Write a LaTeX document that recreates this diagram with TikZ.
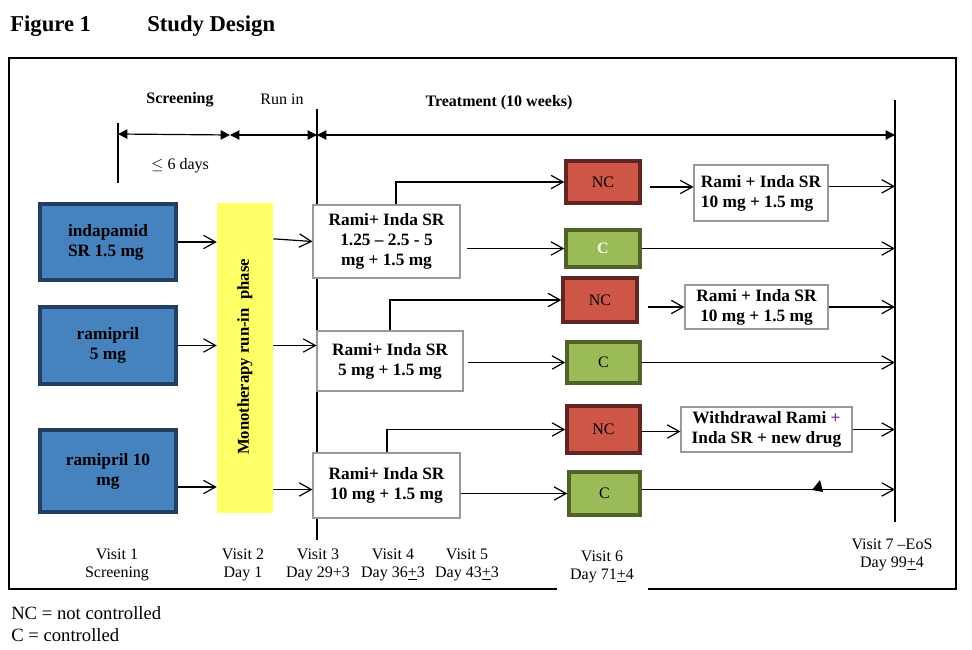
\documentclass[tikz,border=0pt]{standalone}
\usepackage{fontspec}
\setmainfont{Liberation Serif}
\usetikzlibrary{arrows.meta}
\definecolor{bluefill}{RGB}{70,130,190}
\definecolor{blueline}{RGB}{36,62,96}
\definecolor{redfill}{RGB}{205,86,70}
\definecolor{redline}{RGB}{99,37,35}
\definecolor{greenfill}{RGB}{155,187,89}
\definecolor{greenline}{RGB}{79,98,40}
\definecolor{yellowfill}{RGB}{255,255,102}
\definecolor{plusviolet}{RGB}{112,48,160}
\begin{document}
\begin{tikzpicture}[x=0.75pt,y=-0.75pt,
  sz/.style 2 args={minimum width=#1*0.75pt,minimum height=#2*0.75pt},
  boxfont/.style={font=\fontsize{13}{15}\selectfont\bfseries},
  lblfont/.style={font=\fontsize{12}{13.5}\selectfont},
  bluebox/.style={draw=blueline,fill=bluefill,line width=3pt,inner sep=0pt,boxfont,align=center},
  ncbox/.style={draw=redline,fill=redfill,line width=2.6pt,inner sep=0pt,lblfont,align=center},
  cbox/.style={draw=greenline,fill=greenfill,line width=2.6pt,inner sep=0pt,lblfont,align=center},
  trbox/.style={draw=gray!80,fill=white,line width=0.8pt,inner sep=0pt,boxfont,align=center},
  oarr/.style={-{Straight Barb[length=9pt,width=10pt,line width=0.9pt]},line width=0.9pt},
  tarr/.style={{Triangle[length=7pt,width=7pt]}-{Triangle[length=7pt,width=7pt]},line width=0.9pt},
  vline/.style={line width=0.9pt}]
\useasboundingbox (0,0) rectangle (972,650);

% titles
\node[anchor=base west,inner sep=0pt,font=\fontsize{17}{19}\selectfont\bfseries] (fig) at (10,31) {Figure 1};
\node[anchor=base west,inner sep=0pt,font=\fontsize{17}{19}\selectfont\bfseries] (title) at (147,31) {Study Design};

% frame
\draw[line width=1.1pt] (9,58) rectangle (956,589);

% phase labels
\node[font=\fontsize{12}{13.5}\selectfont\bfseries] (scr) at (180,100) {Screening};
\node[lblfont] (runin) at (282,99) {Run in};
\node[font=\fontsize{12}{13.5}\selectfont\bfseries] (treat) at (499,103) {Treatment (10 weeks)};
\node[lblfont] (days) at (180,166) {$\leq$ 6 days};

% timeline
\coordinate (s0) at (118,134);
\coordinate (s1) at (230,135);
\coordinate (s2) at (317,135);
\coordinate (s3) at (895,135);
\coordinate (t1a) at (118,123);
\coordinate (t1b) at (118,183);
\coordinate (v3a) at (317,109);
\coordinate (v3b) at (317,540);
\coordinate (v7a) at (895,100);
\coordinate (v7b) at (895,522);
\draw[vline] (t1a) -- (t1b);
\draw[vline] (v3a) -- (v3b);
\draw[vline] (v7a) -- (v7b);
\draw[tarr] (s0) -- (s1);
\draw[tarr] (s1) -- (s2);
\draw[tarr] (s2) -- (s3);

% blue boxes
\node[bluebox,sz={136}{76},align=left] (B1) at (108,242) {indapamid\\SR 1.5 mg};
\node[bluebox,sz={136}{77}] (B2) at (108,345.5) {ramipril\\5 mg};
\node[bluebox,sz={136}{82}] (B3) at (108,471) {ramipril 10\\mg};

% yellow run-in
\node[fill=yellowfill,inner sep=0pt,sz={56}{310}] (Y) at (245,358) {};
\node[rotate=90,font=\fontsize{12.5}{14}\selectfont\bfseries] (Ytext) at (245,357) {Monotherapy run-in\ \ phase};

% treatment boxes
\node[trbox,sz={147}{73}] (T1) at (386.5,241.5) {Rami+ Inda SR\\1.25 -- 2.5 - 5\\mg + 1.5 mg};
\node[trbox,sz={146}{60}] (T2) at (390,361) {Rami+ Inda SR\\5 mg + 1.5 mg};
\node[trbox,sz={147}{65}] (T3) at (386.5,485.5) {Rami+ Inda SR\\10 mg + 1.5 mg};

% NC / C boxes
\node[ncbox,sz={74}{42}] (NC1) at (603,182) {NC};
\node[cbox,sz={74}{37},text=white,font=\fontsize{12}{13.5}\selectfont\bfseries] (C1) at (603,248.5) {C};
\node[ncbox,sz={74}{44}] (NC2) at (600,300) {NC};
\node[cbox,sz={73}{41}] (C2) at (603.5,362.5) {C};
\node[ncbox,sz={73}{47}] (NC3) at (603.5,429.5) {NC};
\node[cbox,sz={71}{43}] (C3) at (604.5,493.5) {C};

% right boxes
\node[trbox,sz={134}{56},align=left] (R1) at (761,193) {Rami + Inda SR\\10 mg + 1.5 mg};
\node[trbox,sz={143}{44}] (R2) at (756.5,307) {Rami + Inda SR\\10 mg + 1.5 mg};
\node[trbox,sz={171}{45}] (W) at (766.5,429.5) {Withdrawal Rami {\color{plusviolet}+}\\Inda SR + new drug};

% arrows blue -> yellow
\draw[oarr] (B1.east) -- (B1.east -| Y.west);
\draw[oarr] (B2.east) -- (B2.east -| Y.west);
\draw[oarr] ([yshift=-12pt]B3.east) -- ([yshift=-12pt]B3.east -| Y.west);

% yellow -> treatment
\draw[oarr] ([yshift=2pt]Y.east |- T1.west) -- (T1.west);
\draw[oarr] (Y.east |- B2.east) -- (T2.west |- B2.east);
\draw[oarr] ([yshift=-3pt]Y.east |- T3.west) -- ([yshift=-3pt]T3.west);

% treatment -> NC (elbows)
\draw[oarr] (T1.north -| 396,0) |- (NC1.west);
\draw[oarr] (T2.north -| 390,0) |- (NC2.west);
\draw[oarr] (T3.north -| 387,0) |- (NC3.west);

% treatment -> C
\draw[oarr,shorten <=5pt] (T1.east |- C1.west) -- (C1.west);
\draw[oarr,shorten <=3pt] (T2.east |- C2.west) -- (C2.west);
\draw[oarr] (T3.east |- C3.west) -- (C3.west);

% NC -> right boxes
\draw[oarr,shorten <=6pt] ([yshift=4.5pt]R1.west -| NC1.east) -- ([yshift=4.5pt]R1.west);
\draw[oarr,shorten <=7pt] (NC2.east |- R2.west) -- (R2.west);
\draw[oarr] ([yshift=-1.5pt]NC3.east) -- ([yshift=-1.5pt]NC3.east -| W.west);

% to end of study
\draw[oarr] ([yshift=5pt]R1.east) -- ([yshift=5pt]R1.east -| v7a);
\draw[oarr] (C1.east) -- (C1.east -| v7a);
\draw[oarr] (R2.east) -- (R2.east -| v7a);
\draw[oarr] (C2.east) -- (C2.east -| v7a);
\draw[oarr] (W.east) -- (W.east -| v7a);
\draw[oarr] ([yshift=3pt]C3.east) -- ([yshift=3pt]C3.east -| v7a);
\fill (812,490) -- (823,492) -- (820,480) -- cycle;

% visit labels
\node[lblfont,align=center] (V1) at (117,564.5) {Visit 1\\Screening};
\node[lblfont,align=center] (V2) at (243,564.5) {Visit 2\\Day 1};
\node[lblfont,align=center] (V3) at (318,564.5) {Visit 3\\Day 29+3};
\node[lblfont,align=center] (V4) at (393,564.5) {Visit 4\\Day 36\underline{+}3};
\node[lblfont,align=center] (V5) at (467,564.5) {Visit 5\\Day 43\underline{+}3};
\node[lblfont,align=center,fill=white,inner sep=0pt,sz={91}{48}] (V6) at (602,567) {Visit 6\\Day 71\underline{+}4};
\node[lblfont,align=center] (V7) at (892,554.5) {Visit 7 --EoS\\Day 99\underline{+}4};

% legend
\node[font=\fontsize{14}{16}\selectfont,anchor=west,inner sep=0pt] (L1) at (11,613) {NC = not controlled};
\node[font=\fontsize{14}{16}\selectfont,anchor=west,inner sep=0pt] (L2) at (11,635) {C = controlled};
\end{tikzpicture}
\end{document}
